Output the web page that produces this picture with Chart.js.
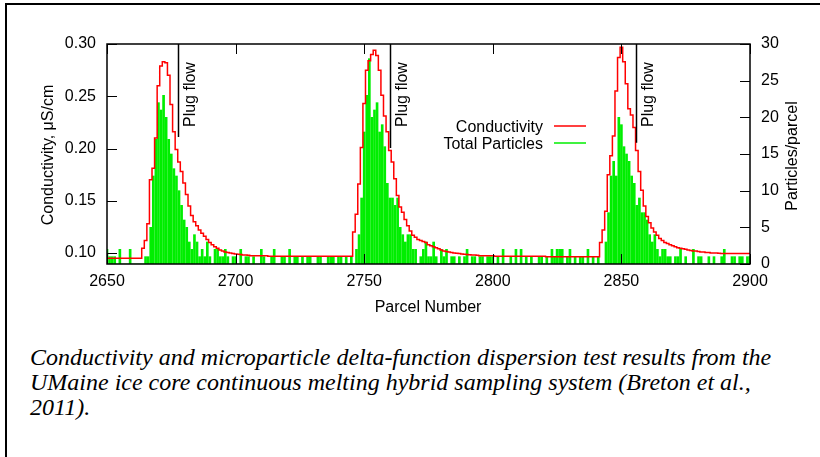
<!DOCTYPE html>
<html>
<head>
<meta charset="utf-8">
<script src="https://cdn.jsdelivr.net/npm/chart.js@4.4.1/dist/chart.umd.min.js"></script>
<style>
  body { margin: 0; background: #fff; width: 820px; height: 457px; overflow: hidden; position: relative; }
  #frame { position: absolute; left: 5px; top: 3px; width: 840px; height: 480px; border: 2px solid #000; }
  #wrap { position: absolute; left: 0; top: 0; width: 820px; height: 330px; }
  #caption { position: absolute; left: 30px; top: 345px; width: 785px; margin: 0; white-space: nowrap;
    font: italic 24px "Liberation Serif", "Times New Roman", serif; line-height: 25px; color: #000; }
</style>
</head>
<body>
<div id="frame"></div>
<div id="wrap"><canvas id="chart"></canvas></div>
<p id="caption">Conductivity and microparticle delta-function dispersion test results from the<br>UMaine ice core continuous melting hybrid sampling system (Breton et al.,<br>2011).</p>
<script>
// parcel numbers 2650 ... 2900, one per reading
const parcels = [];
for (let p = 2650; p <= 2900; p++) parcels.push(p);

// conductivity, uS/cm (left axis), ten parcels per row
const conductivity = [
  0.095, 0.095, 0.095, 0.095, 0.095, 0.095, 0.095, 0.095, 0.095, 0.095,
  0.095, 0.095, 0.095, 0.095, 0.1045, 0.112, 0.128, 0.170, 0.181, 0.210,
  0.260, 0.279, 0.283, 0.282, 0.270, 0.242, 0.216, 0.199, 0.187, 0.178,
  0.167, 0.156, 0.145, 0.136, 0.130, 0.126, 0.122, 0.119, 0.116, 0.113,
  0.110, 0.108, 0.106, 0.1045, 0.103, 0.102, 0.101, 0.1005, 0.100, 0.0995,
  0.099, 0.0988, 0.0985, 0.098, 0.098, 0.0978, 0.0975, 0.0975, 0.0975, 0.0975,
  0.0975, 0.0975, 0.0975, 0.097, 0.097, 0.097, 0.097, 0.097, 0.097, 0.097,
  0.097, 0.097, 0.097, 0.097, 0.097, 0.097, 0.097, 0.097, 0.097, 0.097,
  0.097, 0.097, 0.097, 0.097, 0.097, 0.097, 0.097, 0.097, 0.097, 0.097,
  0.097, 0.097, 0.097, 0.097, 0.097, 0.097, 0.120, 0.137, 0.166, 0.201,
  0.243, 0.275, 0.284, 0.290, 0.294, 0.289, 0.275, 0.251, 0.231, 0.216,
  0.198, 0.187, 0.171, 0.155, 0.144, 0.139, 0.132, 0.126, 0.121, 0.117,
  0.115, 0.113, 0.112, 0.111, 0.110, 0.108, 0.107, 0.106, 0.105, 0.104,
  0.103, 0.102, 0.1015, 0.101, 0.1005, 0.100, 0.0998, 0.0995, 0.099, 0.0988,
  0.0985, 0.0983, 0.098, 0.098, 0.0978, 0.0975, 0.0975, 0.0975, 0.0975, 0.0975,
  0.0975, 0.097, 0.097, 0.097, 0.097, 0.097, 0.097, 0.097, 0.097, 0.097,
  0.097, 0.097, 0.097, 0.097, 0.097, 0.097, 0.097, 0.097, 0.097, 0.097,
  0.097, 0.0965, 0.0965, 0.0965, 0.0965, 0.0965, 0.0965, 0.0965, 0.0965, 0.0965,
  0.0965, 0.0965, 0.0965, 0.0965, 0.0965, 0.0965, 0.0965, 0.0965, 0.0965, 0.0965,
  0.0965, 0.0965, 0.110, 0.122, 0.140, 0.175, 0.193, 0.212, 0.255, 0.287,
  0.297, 0.283, 0.262, 0.238, 0.232, 0.220, 0.198, 0.178, 0.160, 0.145,
  0.135, 0.129, 0.124, 0.120, 0.117, 0.114, 0.112, 0.110, 0.109, 0.108,
  0.107, 0.106, 0.105, 0.1045, 0.104, 0.1035, 0.103, 0.1025, 0.102, 0.102,
  0.1015, 0.101, 0.101, 0.1005, 0.1005, 0.100, 0.100, 0.100, 0.0998, 0.0995,
  0.0995, 0.0995, 0.0995, 0.0995, 0.0995, 0.0995, 0.0995, 0.0995, 0.0995, 0.0995,
  0.0995
];

// total particles per parcel (right axis)
const particles = [
  2, 1, 1, 1, 0, 2, 0, 0, 0, 2,
  0, 0, 0, 0, 0, 1, 1, 5, 12, 17,
  22, 21, 23, 20, 17, 15, 13, 12, 10, 8,
  6, 5, 3, 2, 4, 3, 1, 2, 1, 3,
  1, 0, 2, 2, 1, 1, 2, 1, 0, 1,
  1, 0, 2, 0, 1, 1, 0, 1, 0, 0,
  2, 1, 0, 0, 1, 2, 0, 0, 1, 1,
  0, 2, 0, 1, 1, 0, 1, 0, 1, 1,
  0, 0, 1, 1, 0, 0, 1, 1, 1, 0,
  1, 1, 0, 1, 0, 1, 0, 2, 4, 9,
  18, 23, 28, 20, 21, 22, 18, 19, 16, 11,
  9, 9, 8, 9, 5, 4, 3, 4, 4, 2,
  2, 0, 1, 2, 3, 1, 1, 3, 1, 0,
  2, 1, 2, 0, 1, 1, 0, 1, 0, 1,
  2, 0, 1, 1, 0, 1, 1, 0, 1, 1,
  1, 0, 1, 0, 2, 0, 0, 1, 0, 2,
  0, 2, 0, 1, 0, 1, 0, 0, 1, 1,
  0, 1, 0, 2, 1, 2, 2, 2, 0, 1,
  2, 0, 1, 0, 1, 1, 0, 2, 0, 1,
  0, 1, 0, 0, 3, 7, 12, 14, 12, 20,
  19, 16, 15, 14, 12, 11, 8, 9, 7, 7,
  6, 4, 3, 4, 2, 1, 2, 2, 1, 1,
  0, 1, 1, 2, 0, 1, 0, 0, 2, 0,
  1, 1, 0, 0, 1, 0, 1, 0, 0, 1,
  2, 0, 0, 1, 1, 0, 1, 1, 0, 1,
  1
];

const xTicks = [2650, 2700, 2750, 2800, 2850, 2900];
const yTicks = [0.10, 0.15, 0.20, 0.25, 0.30];
const y2Ticks = [0, 5, 10, 15, 20, 25, 30];

// "Plug flow" markers: parcel and the conductivity level where the line stops
const plugFlowAt = [2677.6, 2760.0, 2855.8];
const plugFlowEnd = [0.211, 0.2005, 0.2055];

const FONT = '"Liberation Sans", Arial, sans-serif';
const setTicks = list => scale => { scale.ticks = list.map(v => ({ value: v })); };

const decor = {
  id: 'decor',
  afterDatasetsDraw(chart) {
    const { ctx, chartArea: a, scales: { x, y, y2 } } = chart;
    ctx.save();
    ctx.strokeStyle = '#000';
    ctx.fillStyle = '#000';
    ctx.font = '16px ' + FONT;

    // plug flow lines + labels
    ctx.lineWidth = 1.5;
    plugFlowAt.forEach((p, i) => {
      const px = Math.round(x.getPixelForValue(p)) + 0.5;
      ctx.beginPath();
      ctx.moveTo(px, a.top);
      ctx.lineTo(px, y.getPixelForValue(plugFlowEnd[i]));
      ctx.stroke();
      ctx.save();
      ctx.translate(px + 16, 127);
      ctx.rotate(-Math.PI / 2);
      ctx.textAlign = 'left';
      ctx.textBaseline = 'alphabetic';
      ctx.fillText('Plug flow', 0, 0);
      ctx.restore();
    });

    // frame and inward tics
    ctx.lineWidth = 1.5;
    ctx.strokeRect(a.left, a.top, a.right - a.left, a.bottom - a.top);
    ctx.lineWidth = 1;
    ctx.beginPath();
    yTicks.forEach(v => {
      const py = Math.round(y.getPixelForValue(v)) + 0.5;
      ctx.moveTo(a.left, py); ctx.lineTo(a.left + 10, py);
    });
    y2Ticks.forEach(v => {
      const py = Math.round(y2.getPixelForValue(v)) + 0.5;
      ctx.moveTo(a.right, py); ctx.lineTo(a.right - 10, py);
    });
    xTicks.forEach(v => {
      const px = Math.round(x.getPixelForValue(v)) + 0.5;
      ctx.moveTo(px, a.bottom); ctx.lineTo(px, a.bottom - 10);
      ctx.moveTo(px, a.top); ctx.lineTo(px, a.top + 10);
    });
    ctx.stroke();

    // key
    ctx.textAlign = 'right';
    ctx.textBaseline = 'alphabetic';
    ctx.fillText('Conductivity', 543, 132);
    ctx.fillText('Total Particles', 543, 149);
    ctx.lineWidth = 1.5;
    ctx.strokeStyle = '#ff0000';
    ctx.beginPath(); ctx.moveTo(554, 126); ctx.lineTo(586, 126); ctx.stroke();
    ctx.strokeStyle = '#00ee00';
    ctx.beginPath(); ctx.moveTo(554, 143); ctx.lineTo(586, 143); ctx.stroke();

    // axis titles
    ctx.fillStyle = '#000';
    ctx.textAlign = 'center';
    ctx.fillText('Parcel Number', 428, 312);
    ctx.save();
    ctx.translate(53, 155);
    ctx.rotate(-Math.PI / 2);
    ctx.fillText('Conductivity, \u03bcS/cm', 0, 0);
    ctx.restore();
    ctx.save();
    ctx.translate(797, 156);
    ctx.rotate(-Math.PI / 2);
    ctx.fillText('Particles/parcel', 0, 0);
    ctx.restore();
    ctx.restore();
  }
};

new Chart(document.getElementById('chart'), {
  type: 'bar',
  data: {
    labels: parcels,
    datasets: [
      {
        type: 'line',
        label: 'Conductivity',
        data: conductivity,
        yAxisID: 'y',
        borderColor: '#ff0000',
        borderWidth: 1.5,
        stepped: 'middle',
        pointRadius: 0,
        fill: false,
        order: 0
      },
      {
        type: 'bar',
        label: 'Total Particles',
        data: particles,
        yAxisID: 'y2',
        backgroundColor: '#00ee00',
        borderWidth: 0,
        barThickness: 2,
        order: 1
      }
    ]
  },
  options: {
    responsive: true,
    maintainAspectRatio: false,
    animation: false,
    devicePixelRatio: 1,
    layout: { padding: { top: 44, left: 0, right: 0, bottom: 0 } },
    plugins: { legend: { display: false }, tooltip: { enabled: false } },
    scales: {
      x: {
        type: 'linear',
        min: 2650, max: 2900,
        offset: false,
        afterBuildTicks: setTicks(xTicks),
        afterFit: s => { s.height = 66; },
        grid: { display: false, drawTicks: false },
        border: { display: false },
        ticks: { padding: 8, color: '#000', font: { family: FONT, size: 16 }, callback: v => String(v) }
      },
      y: {
        position: 'left',
        min: 0.0895, max: 0.30,
        afterBuildTicks: setTicks(yTicks),
        afterFit: s => { s.width = 107; },
        grid: { display: false, drawTicks: false },
        border: { display: false },
        ticks: { padding: 11, color: '#000', font: { family: FONT, size: 16 }, callback: v => v.toFixed(2) }
      },
      y2: {
        position: 'right',
        min: 0, max: 30,
        afterBuildTicks: setTicks(y2Ticks),
        afterFit: s => { s.width = 70; },
        grid: { display: false, drawTicks: false },
        border: { display: false },
        ticks: { padding: 11, color: '#000', font: { family: FONT, size: 16 } }
      }
    }
  },
  plugins: [decor]
});
</script>
</body>
</html>
